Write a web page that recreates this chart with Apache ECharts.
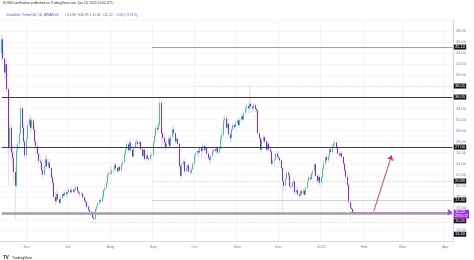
<!DOCTYPE html>
<html><head><meta charset="utf-8">
<script src="https://cdn.jsdelivr.net/npm/echarts@6/dist/echarts.min.js"></script>
<style>html,body{margin:0;padding:0;background:#fff}#c{width:474px;height:260px}</style>
</head><body><div id="c"></div>
<script>
// ---- data (daily LINK/USDT candles) ----
const startDate = '2021-05-14';
const endDate = '2022-04-06';
const opens = [44.0,46.5,43.0,40.5,42.0,37.5,27.0,30.5,26.0,25.0,
22.5,20.0,26.5,27.5,29.5,34.0,30.5,28.0,25.5,28.5,
31.0,32.0,30.5,31.8,30.2,28.0,27.2,25.8,24.5,24.2,
22.8,22.0,23.5,24.8,23.5,24.2,23.2,21.5,20.5,18.0,
17.2,18.5,17.5,16.9,17.8,18.5,18.2,18.8,18.5,18.8,
19.2,18.8,19.3,18.9,19.2,19.8,19.0,18.7,18.5,18.6,
17.9,17.3,17.0,16.2,15.6,15.3,15.2,14.3,14.0,15.8,
16.2,16.8,17.4,17.2,18.0,19.2,19.6,20.5,22.0,22.3,
22.2,22.8,22.9,23.8,23.2,22.6,23.4,22.8,23.9,24.3,
25.8,26.5,27.5,26.4,27.8,26.5,25.3,26.8,27.9,28.0,
27.5,27.9,26.6,25.4,26.5,24.8,25.5,25.0,24.8,25.6,
25.5,27.8,29.0,30.5,30.2,31.0,35.0,29.5,28.6,27.8,
26.8,27.6,28.5,27.2,28.8,30.2,29.5,28.0,28.5,27.6,
23.5,21.8,23.9,24.4,22.6,23.2,23.7,22.6,22.4,23.0,
24.0,25.5,25.9,26.3,26.0,26.8,26.3,27.2,26.5,26.8,
25.8,25.0,24.7,25.4,26.2,26.6,26.3,26.8,26.0,26.7,
28.5,29.2,31.8,32.2,30.5,31.2,29.3,28.6,30.2,31.0,
30.6,31.3,31.8,31.0,31.9,32.6,32.0,33.2,34.0,34.4,
34.0,34.8,34.3,34.0,34.6,33.9,33.6,29.5,28.6,26.5,
28.2,28.8,28.0,26.5,27.6,26.6,26.2,24.0,24.5,24.8,
25.8,25.2,25.0,24.6,23.2,20.8,20.0,21.3,22.4,21.9,
20.0,19.8,20.5,20.8,18.8,19.2,18.5,18.2,19.0,18.6,
19.1,18.4,19.6,20.8,21.5,21.2,22.2,22.6,23.9,21.8,
20.8,21.6,20.5,21.5,23.0,24.0,25.2,24.6,25.3,26.6,
26.1,27.2,27.6,27.8,26.9,25.8,25.5,25.9,25.2,24.0,
22.8,21.6,20.2,17.0,16.0,15.8];
const closes = [46.5,43.0,40.5,42.0,37.5,27.0,30.5,26.0,25.0,22.5,
20.0,26.5,27.5,29.5,34.0,30.5,28.0,25.5,28.5,31.0,
32.0,30.5,31.8,30.2,28.0,27.2,25.8,24.5,24.2,22.8,
22.0,23.5,24.8,23.5,24.2,23.2,21.5,20.5,18.0,17.2,
18.5,17.5,16.9,17.8,18.5,18.2,18.8,18.5,18.8,19.2,
18.8,19.3,18.9,19.2,19.8,19.0,18.7,18.5,18.6,17.9,
17.3,17.0,16.2,15.6,15.3,15.2,14.3,14.0,15.8,16.2,
16.8,17.4,17.2,18.0,19.2,19.6,20.5,22.0,22.3,22.2,
22.8,22.9,23.8,23.2,22.6,23.4,22.8,23.9,24.3,25.8,
26.5,27.5,26.4,27.8,26.5,25.3,26.8,27.9,28.0,27.5,
27.9,26.6,25.4,26.5,24.8,25.5,25.0,24.8,25.6,25.5,
27.8,29.0,30.5,30.2,31.0,35.0,29.5,28.6,27.8,26.8,
27.6,28.5,27.2,28.8,30.2,29.5,28.0,28.5,27.6,23.5,
21.8,23.9,24.4,22.6,23.2,23.7,22.6,22.4,23.0,24.0,
25.5,25.9,26.3,26.0,26.8,26.3,27.2,26.5,26.8,25.8,
25.0,24.7,25.4,26.2,26.6,26.3,26.8,26.0,26.7,28.5,
29.2,31.8,32.2,30.5,31.2,29.3,28.6,30.2,31.0,30.6,
31.3,31.8,31.0,31.9,32.6,32.0,33.2,34.0,34.4,34.0,
34.8,34.3,34.0,34.6,33.9,33.6,29.5,28.6,26.5,28.2,
28.8,28.0,26.5,27.6,26.6,26.2,24.0,24.5,24.8,25.8,
25.2,25.0,24.6,23.2,20.8,20.0,21.3,22.4,21.9,20.0,
19.8,20.5,20.8,18.8,19.2,18.5,18.2,19.0,18.6,19.1,
18.4,19.6,20.8,21.5,21.2,22.2,22.6,23.9,21.8,20.8,
21.6,20.5,21.5,23.0,24.0,25.2,24.6,25.3,26.6,26.1,
27.2,27.6,27.8,26.9,25.8,25.5,25.9,25.2,24.0,22.8,
21.6,20.2,17.0,16.0,15.8,15.22];
const lows = [42.5,42.5,39.0,39.5,37.0,20.0,25.5,24.0,23.0,21.0,
14.0,19.5,25.0,26.5,29.0,29.5,27.5,24.8,25.0,28.0,
30.2,29.5,30.0,29.8,27.5,25.5,25.0,24.0,23.5,22.0,
21.3,21.8,23.0,23.0,23.0,22.8,21.0,19.8,17.5,16.5,
16.8,17.0,16.5,16.6,17.5,17.8,17.9,18.0,18.0,18.4,
18.5,18.6,18.5,18.6,19.0,18.7,18.4,18.0,18.2,17.6,
17.1,16.4,15.8,15.3,15.0,14.7,14.0,13.4,13.5,15.3,
15.9,16.5,16.8,16.9,17.4,18.9,19.3,20.0,21.5,21.6,
21.8,22.0,22.6,22.7,22.3,22.4,22.5,22.5,23.5,24.0,
25.2,26.0,26.0,25.8,26.1,25.0,25.0,26.2,27.2,26.8,
26.9,26.3,25.0,25.0,24.5,24.4,24.6,24.3,24.6,24.9,
25.2,27.4,28.6,29.5,29.8,30.8,26.5,27.3,27.0,26.2,
26.4,27.0,26.8,27.0,28.5,29.0,27.6,27.6,27.0,23.0,
21.2,21.5,23.2,22.0,22.3,22.4,22.4,21.9,22.0,22.7,
23.5,25.2,25.4,25.2,25.7,25.0,25.8,26.2,26.1,25.5,
24.7,24.0,24.2,25.1,25.6,25.9,25.8,25.6,25.7,26.4,
28.0,28.8,31.0,30.0,30.0,29.0,27.8,28.0,29.8,30.0,
30.2,30.8,30.6,30.7,31.5,31.6,31.8,32.9,33.5,33.2,
33.0,33.6,33.2,33.5,33.4,33.0,29.0,27.8,26.2,26.2,
27.8,27.6,26.2,26.0,26.1,25.6,23.5,23.8,23.4,24.5,
24.6,24.6,24.0,22.8,15.2,19.2,19.0,21.0,21.0,19.6,
19.2,19.4,20.0,18.4,18.3,17.9,17.8,17.9,18.2,18.3,
18.0,18.2,19.3,20.3,20.8,21.0,21.8,22.3,21.5,20.4,
20.4,20.0,19.4,21.3,22.8,23.6,24.2,24.2,25.0,25.7,
25.9,26.8,26.9,26.5,25.4,25.0,25.2,24.9,23.6,22.2,
21.2,19.8,16.6,13.8,15.2,15.08];
const highs = [47.5,47.0,44.5,43.0,43.0,38.0,31.5,31.0,27.5,26.5,
23.5,27.5,29.0,31.0,35.2,34.5,31.5,28.5,29.0,31.8,
33.0,32.5,32.5,32.3,30.8,28.5,27.8,26.5,25.2,24.8,
23.5,24.0,25.5,25.9,24.9,24.6,23.5,22.0,21.0,18.8,
19.2,19.0,18.2,18.3,19.0,18.9,19.3,19.4,19.5,19.8,
19.6,19.9,19.6,19.7,20.3,20.0,19.3,19.0,18.9,18.8,
18.1,17.6,17.2,16.5,15.9,15.7,15.4,14.6,16.2,16.6,
17.1,17.7,17.8,19.3,19.4,20.2,20.9,22.4,22.8,23.4,
23.6,23.3,24.2,24.3,23.6,23.9,23.8,24.3,24.8,26.2,
27.0,28.2,28.0,28.3,28.5,27.0,27.2,28.3,28.6,28.4,
28.6,28.3,27.0,26.8,26.7,25.9,25.9,25.4,26.0,26.0,
28.2,29.5,31.0,31.5,31.6,36.0,35.5,30.5,29.5,28.6,
28.2,29.0,28.9,29.2,30.8,30.8,29.8,29.0,28.8,27.8,
24.2,24.2,24.9,25.0,23.8,24.0,24.3,23.2,23.4,24.4,
26.0,26.3,26.8,26.7,27.2,27.0,27.6,27.7,27.2,27.3,
26.2,25.5,25.8,26.7,27.1,27.0,27.2,27.2,27.1,29.0,
30.5,32.4,32.8,32.6,31.8,31.5,29.9,30.6,31.6,31.4,
31.8,32.2,32.2,32.4,33.0,33.0,33.6,34.5,35.0,35.2,
38.2,36.5,35.0,35.0,35.0,34.4,33.8,30.3,29.0,28.6,
29.3,29.2,28.3,28.0,27.9,27.2,26.5,25.0,25.2,26.3,
26.5,26.2,25.5,25.0,23.4,21.5,21.8,22.9,22.8,22.2,
20.9,20.9,21.2,21.0,19.8,19.9,19.0,19.4,19.4,19.6,
19.3,20.0,21.2,22.0,22.3,22.6,23.2,24.6,24.0,22.2,
22.0,22.0,21.8,23.5,24.6,25.6,25.9,25.7,26.9,27.0,
27.6,28.0,28.4,28.3,27.3,26.2,26.3,26.2,25.5,24.3,
23.2,22.6,20.5,17.4,16.8,15.99];

// month tick labels on the time axis
const monthTickDates = ['2021-06-01','2021-07-01','2021-08-01','2021-09-01','2021-10-01','2021-11-01','2021-12-01','2022-01-01','2022-02-01','2022-03-01','2022-04-01'];
const monthTicks = ['Jun','Jul','Aug','Sep','Oct','Nov','Dec','2022','Feb','Mar','Apr'];

// horizontal drawing levels
const levelValues = [45.10, 38.05, 36.05, 27.00, 20.85, 17.40, 15.05, 13.40];
const levelStarts = ['2021-08-31','2021-10-04','2021-05-14','2021-05-14','2021-08-31','2021-08-31','2021-05-14','2021-07-17'];
// projection arrow
const arrowFrom = ['2022-02-08', 15.4];
const arrowTo = ['2022-02-21', 25.5];
const symbolName = 'LINKUSDT';
const countdown = '23:55:12';

// ---- styles ----
const levelStyles = [
  {color:'#a0a0a0', width:1, type:'solid'},
  {color:'#d2d2d2', width:0.8, type:[1,1.5]},
  {color:'#3c3c3c', width:1, type:'solid'},
  {color:'#3c3c3c', width:1, type:'solid'},
  {color:'#bcbcbc', width:0.8, type:[1,1.5]},
  {color:'#c4c4c4', width:0.8, type:'solid'},
  {color:'#a0a0a0', width:2.5, type:'solid'},
  {color:'#c4c4c4', width:0.8, type:[1,1.5]}
];
const tagOffsets = [0,0,0,0,0,0,7.7,12];
const UP = '#38cc92', DOWN = '#8f22e0', WICK = '#e6d6f5', PURPLE = '#a22fe6';
const FONT = 'Liberation Sans, Arial, sans-serif';

// ---- build ----
const cats = [];
for (let d = new Date(startDate + 'T00:00:00Z'); d <= new Date(endDate + 'T00:00:00Z'); d.setUTCDate(d.getUTCDate() + 1)) {
  cats.push(d.toISOString().slice(0, 10));
}
const wickData = opens.map((o, i) => [o, closes[i], lows[i], highs[i]]);
const bodyData = opens.map((o, i) => [o, closes[i], Math.min(o, closes[i]), Math.max(o, closes[i])]);
const lastIdx = closes.length - 1;
const lastPrice = closes[lastIdx];
const endIdx = cats.length - 1;

const levelLines = levelValues.map((v, i) => [
  {coord: [cats.indexOf(levelStarts[i]), v], lineStyle: levelStyles[i],
   label: {show: true, position: 'end', distance: 1.5, formatter: v.toFixed(2), offset: [0, tagOffsets[i]],
           backgroundColor: '#131313', color: '#fff', fontSize: 4, lineHeight: 4.2, padding: [0.4, 1.2], fontFamily: FONT}},
  {coord: [endIdx, v]}
]);
const priceLines = [
  [{coord: [lastIdx, lastPrice], lineStyle: {color: PURPLE, width: 0.6, type: [1, 1]},
    label: {show: true, position: 'end', distance: 1.5, formatter: '{p|' + lastPrice.toFixed(2) + '}\n{t|' + countdown + '}',
            backgroundColor: PURPLE, padding: [0.5, 1.2], offset: [0, 2],
            rich: {p: {color: '#fff', fontSize: 4, lineHeight: 4.2, fontFamily: FONT}, t: {color: '#fff', fontSize: 3.3, lineHeight: 3.6, fontFamily: FONT}}}},
   {coord: [endIdx, lastPrice]}],
  [{coord: [lastIdx, lastPrice], lineStyle: {opacity: 0},
    label: {show: true, position: 'insideEnd', distance: 0, formatter: symbolName, backgroundColor: PURPLE, color: '#fff',
            fontSize: 3.3, lineHeight: 4, padding: [0.5, 1.5], fontFamily: FONT}},
   {coord: [endIdx, lastPrice]}],
  [{coord: [cats.indexOf(arrowFrom[0]), arrowFrom[1]], lineStyle: {color: '#e0245e', width: 0.9, type: 'solid'}, label: {show: false}},
   {coord: [cats.indexOf(arrowTo[0]), arrowTo[1]]}]
];

const isMonthStart = (i, v) => monthTickDates.indexOf(v) >= 0;

const chart = echarts.init(document.getElementById('c'), null, {renderer: 'canvas'});
chart.setOption({
  animation: false,
  backgroundColor: '#fff',
  grid: {left: 1, right: 21, top: 20, bottom: 19},
  xAxis: {
    type: 'category', data: cats, boundaryGap: true,
    axisLine: {show: true, lineStyle: {color: '#d8d5ee', width: 1}},
    axisTick: {show: false},
    axisLabel: {interval: isMonthStart, formatter: v => monthTicks[monthTickDates.indexOf(v)],
                color: '#7c79c6', fontSize: 4, margin: 3.5, fontFamily: FONT},
    splitLine: {show: true, interval: isMonthStart, lineStyle: {color: '#f1f0f8', width: 0.8}}
  },
  yAxis: {
    type: 'value', position: 'right', min: 10, max: 50, interval: 2, scale: true,
    axisLine: {show: true, lineStyle: {color: '#d8d5ee', width: 1}},
    axisTick: {show: false},
    axisLabel: {color: '#7c79c6', fontSize: 4, margin: 3, fontFamily: FONT, showMinLabel: false, showMaxLabel: false,
                formatter: v => v.toFixed(2)},
    splitLine: {show: true, lineStyle: {color: '#f3f2f9', width: 0.8}}
  },
  series: [
    {type: 'candlestick', name: 'wicks', data: wickData, barWidth: 0.3, z: 2,
     itemStyle: {color: WICK, color0: WICK, borderColor: WICK, borderColor0: WICK, borderWidth: 0.8}},
    {type: 'candlestick', name: 'bodies', data: bodyData, barWidth: 1.3, z: 3,
     itemStyle: {color: UP, color0: DOWN, borderColor: UP, borderColor0: DOWN, borderWidth: 1}},
    {type: 'line', name: 'levels', data: [], z: 4,
     markLine: {silent: true, symbol: ['none', 'none'], data: levelLines}},
    {type: 'line', name: 'marks', data: [], z: 5,
     markLine: {silent: true, symbol: ['none', 'arrow'], symbolSize: [5, 5], data: priceLines}}
  ],
  graphic: [
    {type: 'text', left: 3, top: 2, style: {text: 'KOSDCoinStudios published on TradingView.com, Jan 24, 2022 01:04 UTC', fill: '#333', fontSize: 3.3, fontFamily: FONT}},
    {type: 'text', left: 6, top: 9, style: {
      text: '{a|Chainlink / TetherUS, 1D, BINANCE}  {b|O15.80  H15.99  L15.08  C15.22  −0.58 (−3.67%)}',
      rich: {a: {fill: '#5a4fd6', fontSize: 3.3, fontFamily: FONT}, b: {fill: '#9a3ee0', fontSize: 3.3, fontFamily: FONT}}}},
    {type: 'text', left: 3, top: 252, style: {text: '{l|TV} {t|TradingView}',
      rich: {l: {fill: '#131722', fontSize: 4.5, fontWeight: 'bold', fontFamily: FONT}, t: {fill: '#131722', fontSize: 3.6, fontFamily: FONT}}}}
  ]
});
</script></body></html>
